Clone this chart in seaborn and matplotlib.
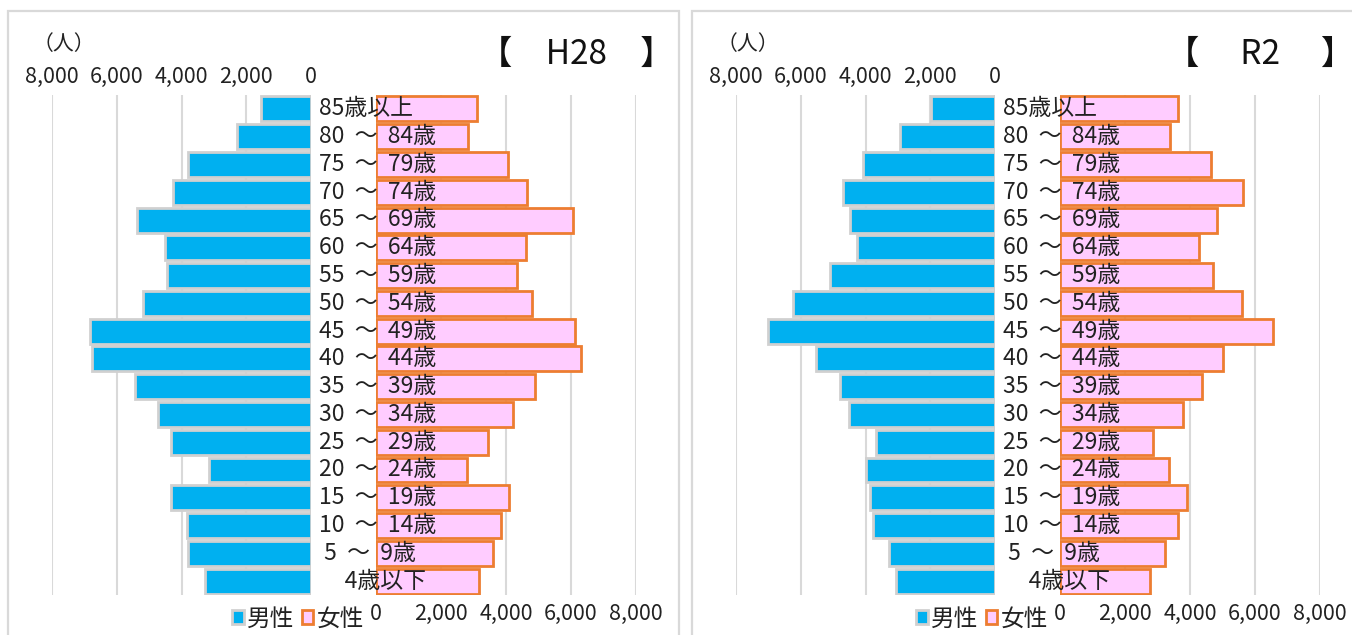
# ==========================================
# POPULATION PYRAMID  H28 / R2
# ==========================================

import matplotlib
matplotlib.use("Agg")
import matplotlib.pyplot as plt
from matplotlib.patches import Patch, Rectangle
from matplotlib.ticker import StrMethodFormatter
import seaborn as sns

# ==========================================
# DATA
# ==========================================

ages = [
    "85歳以上", "80  ～  84歳", "75  ～  79歳", "70  ～  74歳", "65  ～  69歳",
    "60  ～  64歳", "55  ～  59歳", "50  ～  54歳", "45  ～  49歳", "40  ～  44歳",
    "35  ～  39歳", "30  ～  34歳", "25  ～  29歳", "20  ～  24歳", "15  ～  19歳",
    "10  ～  14歳", " 5  ～  9歳", "     4歳以下",
]

h28_male = [1550, 2290, 3810, 4260, 5360, 4500, 4440, 5200, 6820,
            6750, 5430, 4730, 4320, 3160, 4320, 3830, 3790, 3280]
h28_female = [3120, 2830, 4070, 4660, 6070, 4630, 4330, 4790, 6110,
              6320, 4880, 4210, 3440, 2790, 4100, 3860, 3600, 3170]

r2_male = [1980, 2930, 4070, 4700, 4480, 4250, 5090, 6240, 7020,
           5530, 4800, 4520, 3670, 3980, 3870, 3760, 3270, 3060]
r2_female = [3640, 3380, 4660, 5630, 4840, 4280, 4700, 5590, 6550,
             5030, 4360, 3780, 2870, 3350, 3920, 3640, 3220, 2780]

titles = ["【　H28　】", "【　 R2 　】"]
legend_labels = ["男性", "女性"]
ticks = [0, 2000, 4000, 6000, 8000]

# ==========================================
# STYLE
# ==========================================

sns.set_theme(style="white")
plt.rcParams["font.family"] = ["Noto Sans CJK JP", "DejaVu Sans"]

W, H = 1352, 635
MALE_COLOR = "#00B0F0"
MALE_EDGE = "#D0D0D0"
FEMALE_COLOR = "#FFCCFF"
FEMALE_EDGE = "#ED7D31"
GRID = "#D9D9D9"
TEXT = "#222222"

fig = plt.figure(figsize=(W / 100, H / 100), dpi=100)


def px_axes(x0, y_top, width, height):
    return fig.add_axes([x0 / W, (H - y_top - height) / H, width / W, height / H])


def draw_panel(shift, male, female, title):
    # panel frame
    fig.add_artist(Rectangle(((8 + shift) / W, -0.1), 671 / W, (H - 11) / H + 0.1,
                             transform=fig.transFigure, fill=False,
                             edgecolor=GRID, linewidth=1.6))

    ax_f = px_axes(376 + shift, 95, 260, 500)
    ax_m = px_axes(52 + shift, 95, 259, 500)
    ax_f.set_zorder(1)
    ax_m.set_zorder(2)
    ax_m.patch.set_visible(False)

    sns.barplot(x=female, y=ages, ax=ax_f, color=FEMALE_COLOR, saturation=1,
                edgecolor=FEMALE_EDGE, linewidth=2, width=0.9)
    sns.barplot(x=male, y=ages, ax=ax_m, color=MALE_COLOR, saturation=1,
                edgecolor=MALE_EDGE, linewidth=2, width=0.9)

    ax_f.set_xlim(0, 8000)
    ax_m.set_xlim(8000, 0)

    for ax in (ax_f, ax_m):
        ax.set_xlabel("")
        ax.set_ylabel("")
        ax.set_yticks([])
        ax.set_xticks(ticks)
        ax.xaxis.set_major_formatter(StrMethodFormatter("{x:,.0f}"))
        ax.tick_params(axis="x", length=0, labelsize=15.5, colors=TEXT, pad=6)
        ax.grid(axis="x", color=GRID, linewidth=1.5)
        ax.set_axisbelow(True)
        sns.despine(ax=ax, left=True, bottom=True)

    ax_m.xaxis.tick_top()
    ax_m.tick_params(axis="x", pad=5)

    # age labels between the two halves
    for i, label in enumerate(ages):
        ax_m.annotate(label, xy=(0, i), xytext=(6, 0), textcoords="offset points",
                      ha="left", va="center", fontsize=16.5, color=TEXT,
                      annotation_clip=False)

    fig.text((64 + shift) / W, 1 - 44 / H, "（人）", ha="center", va="center",
             fontsize=15, color=TEXT)
    fig.text((576 + shift) / W, 1 - 54 / H, title, ha="center", va="center",
             fontsize=24, color="#111111")

    handles = [
        Patch(facecolor=MALE_COLOR, edgecolor=MALE_EDGE, linewidth=2, label=legend_labels[0]),
        Patch(facecolor=FEMALE_COLOR, edgecolor=FEMALE_EDGE, linewidth=2, label=legend_labels[1]),
    ]
    fig.legend(handles=handles, loc="center", bbox_to_anchor=((298 + shift) / W, 1 - 619 / H),
               ncol=2, frameon=False, fontsize=17, handlelength=0.5, handleheight=0.5,
               handletextpad=0.15, columnspacing=0.3, borderpad=0, labelcolor=TEXT)


# ==========================================
# DRAW BOTH YEARS
# ==========================================

draw_panel(0, h28_male, h28_female, titles[0])
draw_panel(684, r2_male, r2_female, titles[1])

fig.savefig("out.png", dpi=100, facecolor="white")
